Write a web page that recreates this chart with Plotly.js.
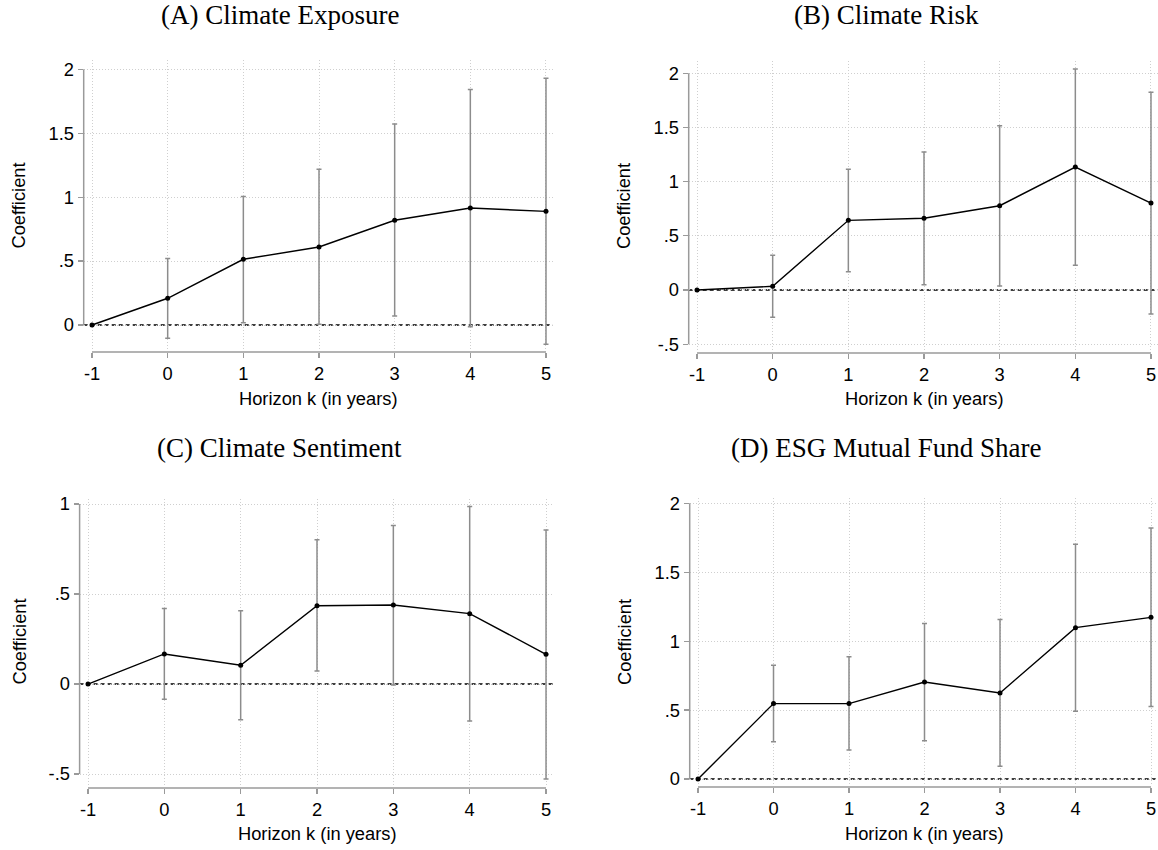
<!DOCTYPE html>
<html>
<head>
<meta charset="utf-8">
<script src="https://cdn.plot.ly/plotly-3.0.1.min.js"></script>
<style>
html, body { margin: 0; padding: 0; background: #ffffff; }
#chart { width: 1158px; height: 850px; }
</style>
</head>
<body>
<div id="chart"></div>
<script>
// ---------------- data ----------------
const horizon = [-1, 0, 1, 2, 3, 4, 5];
const horizonLabels = ['-1', '0', '1', '2', '3', '4', '5'];
const panelTitles = ['(A) Climate Exposure', '(B) Climate Risk', '(C) Climate Sentiment', '(D) ESG Mutual Fund Share'];
const xAxisTitle = 'Horizon k (in years)';
const yAxisTitle = 'Coefficient';

// (A) Climate Exposure
const coefA = [0, 0.209, 0.514, 0.610, 0.819, 0.915, 0.889];
const hiA   = [null, 0.521, 1.006, 1.218, 1.572, 1.843, 1.930];
const loA   = [null, -0.104, 0.018, 0.005, 0.070, -0.013, -0.151];
const yTicksA = [0, 0.5, 1, 1.5, 2];
const yTickTextA = ['0', '.5', '1', '1.5', '2'];

// (B) Climate Risk
const coefB = [0, 0.034, 0.643, 0.662, 0.778, 1.135, 0.803];
const hiB   = [null, 0.320, 1.114, 1.274, 1.517, 2.040, 1.825];
const loB   = [null, -0.252, 0.169, 0.049, 0.037, 0.228, -0.222];
const yTicksB = [-0.5, 0, 0.5, 1, 1.5, 2];
const yTickTextB = ['-.5', '0', '.5', '1', '1.5', '2'];

// (C) Climate Sentiment
const coefC = [0, 0.167, 0.104, 0.435, 0.439, 0.391, 0.165];
const hiC   = [null, 0.419, 0.407, 0.802, 0.881, 0.987, 0.856];
const loC   = [null, -0.085, -0.198, 0.072, -0.006, -0.206, -0.528];
const yTicksC = [-0.5, 0, 0.5, 1];
const yTickTextC = ['-.5', '0', '.5', '1'];

// (D) ESG Mutual Fund Share
const coefD = [0, 0.547, 0.547, 0.704, 0.624, 1.098, 1.173];
const hiD   = [null, 0.825, 0.888, 1.129, 1.158, 1.703, 1.821];
const loD   = [null, 0.271, 0.211, 0.278, 0.092, 0.491, 0.527];
const yTicksD = [0, 0.5, 1, 1.5, 2];
const yTickTextD = ['0', '.5', '1', '1.5', '2'];

// ---------------- layout geometry (pixels) ----------------
const W = 1158, H = 850;
const geometry = [
  {left: 83.7, right: 552.8, top: 60, bottom: 350, axisY: 352, yRange: [-0.1956, 2.073],
   titleX: 280, titleY: 15, xtX: 318, xtY: 398, ytX: 18.5, ytY: 206},
  {left: 688.7, right: 1157.8, top: 61, bottom: 350, axisY: 353, yRange: [-0.554, 2.114],
   titleX: 886, titleY: 15, xtX: 924, xtY: 398, ytX: 624, ytY: 206},
  {left: 79.6, right: 552.9, top: 499, bottom: 785, axisY: 788, yRange: [-0.561, 1.028],
   titleX: 279, titleY: 448, xtX: 317, xtY: 833, ytX: 18.5, ytY: 642},
  {left: 689.7, right: 1157.8, top: 498, bottom: 785, axisY: 787, yRange: [-0.0435, 2.039],
   titleX: 886, titleY: 448, xtX: 924, xtY: 833, ytX: 624, ytY: 642}
];
const xRange = [-1.11, 5.09];

const panels = [
  {coef: coefA, lo: loA, hi: hiA, yt: yTicksA, ytt: yTickTextA},
  {coef: coefB, lo: loB, hi: hiB, yt: yTicksB, ytt: yTickTextB},
  {coef: coefC, lo: loC, hi: hiC, yt: yTicksC, ytt: yTickTextC},
  {coef: coefD, lo: loD, hi: hiD, yt: yTicksD, ytt: yTickTextD}
];

const SANS = 'Liberation Sans, Arial, Helvetica, sans-serif';
const SERIF = 'Liberation Serif, Times New Roman, serif';
const axisGrey = '#9a9a9a';
const gridGrey = '#cfcfcf';
const ciGrey = '#8c8c8c';
const fs = 18.3;

const traces = [];
const shapes = [];
const annotations = [];
const layout = {
  width: W, height: H,
  margin: {l: 0, r: 0, t: 0, b: 0, pad: 0},
  paper_bgcolor: '#ffffff', plot_bgcolor: '#ffffff',
  showlegend: false, hovermode: false,
  font: {family: SANS, size: fs, color: '#000000'}
};

panels.forEach((p, i) => {
  const g = geometry[i];
  const n = i === 0 ? '' : String(i + 1);
  const xa = 'x' + n, ya = 'y' + n;

  const idx = horizon.map((_, k) => k).filter(k => p.hi[k] != null && p.lo[k] != null);
  traces.push({
    type: 'scatter', mode: 'markers', xaxis: xa, yaxis: ya,
    x: idx.map(k => horizon[k]), y: idx.map(k => p.coef[k]),
    marker: {size: 1, opacity: 0},
    error_y: {
      type: 'data', symmetric: false,
      array: idx.map(k => p.hi[k] - p.coef[k]),
      arrayminus: idx.map(k => p.coef[k] - p.lo[k]),
      color: ciGrey, thickness: 1.5, width: 2.5
    },
    hoverinfo: 'skip', showlegend: false
  });
  traces.push({
    type: 'scatter', mode: 'lines+markers', xaxis: xa, yaxis: ya,
    x: horizon, y: p.coef,
    line: {color: '#000000', width: 1.4},
    marker: {color: '#000000', size: 5},
    hoverinfo: 'skip', showlegend: false
  });

  layout['xaxis' + n] = {
    domain: [g.left / W, g.right / W], range: xRange,
    anchor: 'free', position: 1 - g.axisY / H,
    tickmode: 'array', tickvals: horizon, ticktext: horizonLabels,
    ticks: 'outside', ticklen: 5, tickwidth: 1.2, tickcolor: axisGrey,
    tickfont: {family: SANS, size: fs, color: '#000000'},
    showline: false, zeroline: false,
    showgrid: true, gridcolor: gridGrey, gridwidth: 1, griddash: '1px,2px',
    fixedrange: true
  };
  layout['yaxis' + n] = {
    domain: [1 - g.bottom / H, 1 - g.top / H], range: g.yRange,
    anchor: xa,
    tickmode: 'array', tickvals: p.yt, ticktext: p.ytt,
    ticks: 'outside', ticklen: 5, tickwidth: 1.2, tickcolor: axisGrey,
    tickfont: {family: SANS, size: fs, color: '#000000'},
    showline: false, zeroline: false,
    showgrid: true, gridcolor: gridGrey, gridwidth: 1, griddash: '1px,2px',
    fixedrange: true
  };

  // x axis line between first and last tick
  shapes.push({
    type: 'line', xref: xa, yref: 'paper', layer: 'above',
    x0: horizon[0], x1: horizon[horizon.length - 1],
    y0: 1 - g.axisY / H, y1: 1 - g.axisY / H,
    line: {color: axisGrey, width: 1.5}
  });
  // y axis line between first and last tick
  shapes.push({
    type: 'line', xref: xa + ' domain', yref: ya, layer: 'above',
    x0: 0, x1: 0, y0: p.yt[0], y1: p.yt[p.yt.length - 1],
    line: {color: axisGrey, width: 1.5}
  });
  // dashed reference line at zero
  shapes.push({
    type: 'line', xref: xa + ' domain', yref: ya, layer: 'below',
    x0: 0, x1: 1, y0: 0, y1: 0,
    line: {color: '#000000', width: 1.5, dash: '4px,3px'}
  });

  annotations.push({
    text: panelTitles[i], xref: 'paper', yref: 'paper',
    x: g.titleX / W, y: 1 - g.titleY / H, xanchor: 'center', yanchor: 'middle',
    showarrow: false, font: {family: SERIF, size: 27, color: '#000000'}
  });
  annotations.push({
    text: xAxisTitle, xref: 'paper', yref: 'paper',
    x: g.xtX / W, y: 1 - g.xtY / H, xanchor: 'center', yanchor: 'middle',
    showarrow: false, font: {family: SANS, size: fs, color: '#000000'}
  });
  annotations.push({
    text: yAxisTitle, xref: 'paper', yref: 'paper', textangle: -90,
    x: g.ytX / W, y: 1 - g.ytY / H, xanchor: 'center', yanchor: 'middle',
    showarrow: false, font: {family: SANS, size: fs, color: '#000000'}
  });
});

layout.shapes = shapes;
layout.annotations = annotations;

Plotly.newPlot('chart', traces, layout, {displayModeBar: false, staticPlot: true});
</script>
</body>
</html>
